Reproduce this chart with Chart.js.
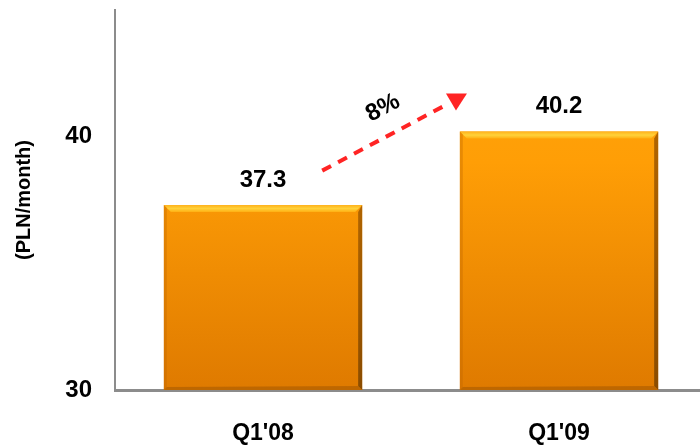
<!DOCTYPE html>
<html>
<head>
<meta charset="utf-8">
<script src="https://cdn.jsdelivr.net/npm/chart.js@4/dist/chart.umd.min.js"></script>
<style>
  html, body { margin: 0; padding: 0; background: #ffffff; overflow: hidden; }
  canvas { display: block; }
</style>
</head>
<body>
<canvas id="chart" width="707" height="448"></canvas>
<script>
const quarters = ["Q1'08", "Q1'09"];
const rentValues = [37.3, 40.2];
const axisTicks = [30, 40];
const axisTitle = "(PLN/month)";

const fontFamily = "'Liberation Sans', Arial, sans-serif";
const axisColor = "#8c8c8c";
const arrowColor = "#ff2424";

// bevelled orange bars: light top rim, dark right edge
const bevelPlugin = {
    id: "bevel",
    afterDatasetsDraw(chart) {
        const ctx = chart.ctx;
        chart.getDatasetMeta(0).data.forEach(bar => {
            const left = bar.x - bar.width / 2;
            const right = bar.x + bar.width / 2;
            const top = bar.y;
            const bottom = Math.min(bar.base, chart.chartArea.bottom);
            const d = 7;
            ctx.save();
            // top rim
            let g = ctx.createLinearGradient(0, top, 0, top + d);
            g.addColorStop(0, "#ffb21c");
            g.addColorStop(0.5, "#ffd23a");
            g.addColorStop(1, "#ffae12");
            ctx.fillStyle = g;
            ctx.beginPath();
            ctx.moveTo(left, top);
            ctx.lineTo(right, top);
            ctx.lineTo(right - d, top + d);
            ctx.lineTo(left + d, top + d);
            ctx.closePath();
            ctx.fill();
            // right edge
            g = ctx.createLinearGradient(0, top, 0, bottom);
            g.addColorStop(0, "#b06400");
            g.addColorStop(1, "#8a4c00");
            ctx.fillStyle = g;
            ctx.beginPath();
            ctx.moveTo(right, top);
            ctx.lineTo(right, bottom);
            ctx.lineTo(right - 4, bottom - 4);
            ctx.lineTo(right - 4, top + d);
            ctx.closePath();
            ctx.fill();
            // left edge
            ctx.fillStyle = "rgba(190,100,0,0.35)";
            ctx.beginPath();
            ctx.moveTo(left, top);
            ctx.lineTo(left + 3, top + 3);
            ctx.lineTo(left + 3, bottom - 3);
            ctx.lineTo(left, bottom);
            ctx.closePath();
            ctx.fill();
            // bottom edge
            ctx.fillStyle = "rgba(150,80,0,0.45)";
            ctx.beginPath();
            ctx.moveTo(left, bottom);
            ctx.lineTo(right, bottom);
            ctx.lineTo(right - 4, bottom - 4);
            ctx.lineTo(left + 3, bottom - 3);
            ctx.closePath();
            ctx.fill();
            ctx.restore();
        });
    }
};

// value labels above bars and the dashed growth arrow between them
const labelsPlugin = {
    id: "valueLabels",
    afterDraw(chart) {
        const ctx = chart.ctx;
        const xs = chart.scales.x;
        const ys = chart.scales.y;
        ctx.save();
        ctx.fillStyle = "#000000";
        ctx.font = "bold 24px " + fontFamily;
        ctx.textAlign = "center";
        ctx.textBaseline = "middle";
        chart.getDatasetMeta(0).data.forEach((bar, i) => {
            ctx.fillText(rentValues[i].toFixed(1), bar.x, bar.y - 25);
        });

        const x0 = xs.getPixelForValue(0.2);
        const y0 = ys.getPixelForValue(rentValues[0] + 1.36);
        const x1 = xs.getPixelForValue(0.608);
        const y1 = ys.getPixelForValue(rentValues[1] + 0.99);
        const ang = Math.atan2(y1 - y0, x1 - x0);

        ctx.strokeStyle = arrowColor;
        ctx.lineWidth = 4;
        ctx.setLineDash([10, 8]);
        ctx.beginPath();
        ctx.moveTo(x0, y0);
        ctx.lineTo(x1, y1);
        ctx.stroke();
        ctx.setLineDash([]);

        // arrow head sits just past the end of the dashes
        ctx.fillStyle = arrowColor;
        ctx.beginPath();
        ctx.moveTo(x1 + 3, y1 - 13);
        ctx.lineTo(x1 + 24, y1 - 13);
        ctx.lineTo(x1 + 13, y1 + 4);
        ctx.closePath();
        ctx.fill();

        const growth = Math.round((rentValues[1] / rentValues[0] - 1) * 100);
        ctx.translate(xs.getPixelForValue(0.405), ys.getPixelForValue(rentValues[0] + 3.83));
        ctx.rotate(ang);
        ctx.fillStyle = "#000000";
        ctx.font = "bold 24px " + fontFamily;
        ctx.fillText(growth + "%", 0, 0);
        ctx.restore();
    }
};

const chart = new Chart(document.getElementById("chart"), {
    type: "bar",
    data: {
        labels: quarters,
        datasets: [{
            data: rentValues,
            backgroundColor: ctx => {
                const area = ctx.chart.chartArea;
                if (!area) return "#f79400";
                const g = ctx.chart.ctx.createLinearGradient(0, area.top, 0, area.bottom);
                g.addColorStop(0, "#ffa80c");
                g.addColorStop(0.4, "#ff9e06");
                g.addColorStop(1, "#df7a00");
                return g;
            },
            borderWidth: 0,
            barPercentage: 0.67,
            categoryPercentage: 1
        }]
    },
    options: {
        responsive: false,
        animation: false,
        layout: {
            padding: { top: 10, right: 0, bottom: 0, left: 0 }
        },
        plugins: {
            legend: { display: false },
            tooltip: { enabled: false }
        },
        scales: {
            x: {
                grid: { display: false, drawTicks: false },
                border: { color: axisColor, width: 3 },
                ticks: {
                    color: "#000000",
                    padding: 30,
                    font: { family: fontFamily, size: 23, weight: "bold" }
                },
                afterFit: scale => {
                    scale.height = 58;
                    scale.paddingLeft = 0;
                    scale.paddingRight = 0;
                }
            },
            y: {
                min: 30,
                max: 45,
                beginAtZero: false,
                grid: { display: false, drawTicks: false },
                border: { color: axisColor, width: 2 },
                ticks: {
                    color: "#000000",
                    padding: 23,
                    stepSize: 10,
                    includeBounds: false,
                    font: { family: fontFamily, size: 24, weight: "bold" },
                    callback: v => axisTicks.includes(v) ? v : ""
                },
                title: {
                    display: true,
                    text: axisTitle,
                    color: "#000000",
                    padding: { top: 12, bottom: 0 },
                    font: { family: fontFamily, size: 20, weight: "bold" }
                },
                afterFit: scale => {
                    scale.width = 115;
                    scale.paddingTop = 0;
                    scale.paddingBottom = 0;
                }
            }
        }
    },
    plugins: [bevelPlugin, labelsPlugin]
});
</script>
</body>
</html>
